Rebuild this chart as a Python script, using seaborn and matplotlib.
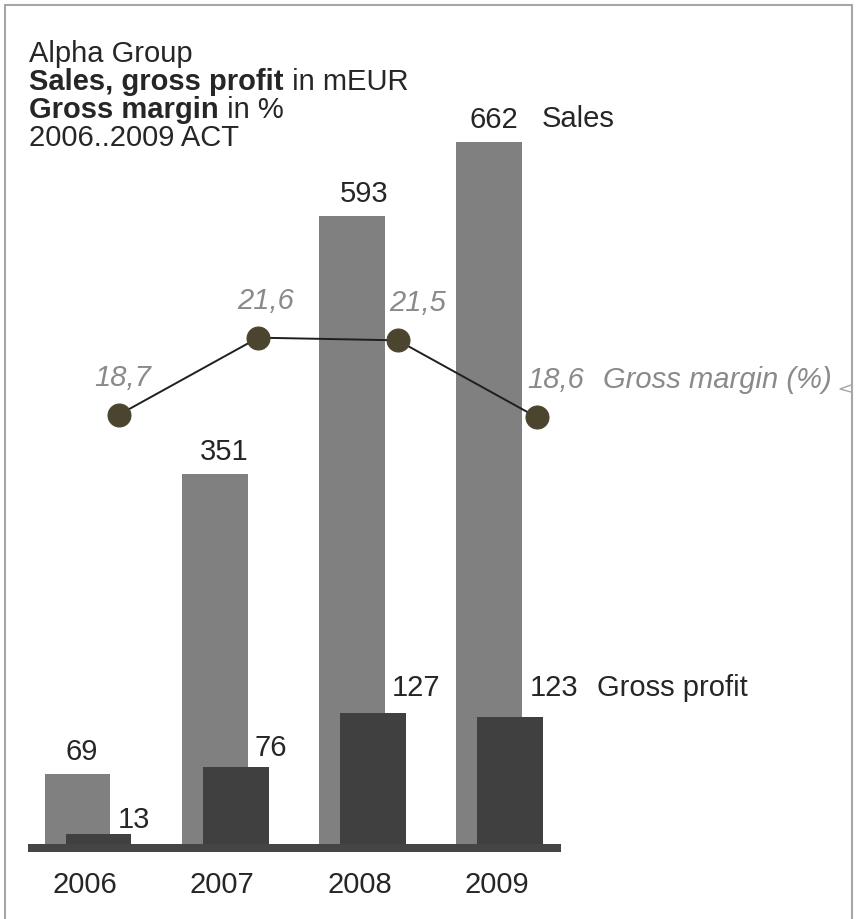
import numpy as np
import pandas as pd
import matplotlib.pyplot as plt
import seaborn as sns
from matplotlib.patches import Rectangle
from matplotlib.lines import Line2D

# data
years = ['2006', '2007', '2008', '2009']
sales = [69, 351, 593, 662]
gross_profit = [13, 76, 127, 123]
gross_margin = [18.7, 21.6, 21.5, 18.6]
margin_text = ['18,7', '21,6', '21,5', '18,6']

title_lines = [('', 'Alpha Group'),
               ('Sales, gross profit', ' in mEUR'),
               ('Gross margin', ' in %'),
               ('', '2006..2009 ACT')]

sns.set_style('white')
plt.rcParams['font.family'] = ['Liberation Sans', 'DejaVu Sans']
plt.rcParams['font.size'] = 21

W, H, DPI = 856, 919, 100
PT = 72 / DPI  # pixels -> points


def rect(left, top, width, height):
    return [left / W, 1 - (top + height) / H, width / W, height / H]


SALES_C = '#808080'
PROFIT_C = '#404040'
GRAY_TXT = '#8a8a8a'

df = pd.DataFrame({'year': years, 'sales': sales,
                   'profit': gross_profit, 'margin': gross_margin})

fig = plt.figure(figsize=(W / DPI, H / DPI), dpi=DPI)

# bars: two overlaid axes, profit shifted right
bar_rect = rect(8.85, 101.4, 549.2, 746.6)
ax1 = fig.add_axes(bar_rect)
ax2 = fig.add_axes(bar_rect)
sns.barplot(data=df, x='year', y='sales', color=SALES_C, saturation=1,
            width=0.48, linewidth=0, ax=ax1)
sns.barplot(data=df, x='year', y='profit', color=PROFIT_C, saturation=1,
            width=0.48, linewidth=0, ax=ax2)
shift = 0.153
ax1.set_xlim(-0.5, 3.5)
ax2.set_xlim(-0.5 - shift, 3.5 - shift)
for ax in (ax1, ax2):
    ax.set_ylim(0, 700)
    ax.set_axis_off()

# baseline
ax2.axhline(0, xmin=0.034, xmax=1.0054, color='#454545', lw=8 * PT,
            solid_capstyle='butt', clip_on=False, zorder=5)

# value labels
sales_dx = [4.5, 9.7, 11.9, 4.1]
for i, v in enumerate(sales):
    ax1.annotate(str(v), xy=(i, v), xytext=(sales_dx[i] * PT, 14 * PT),
                 textcoords='offset points', ha='center', va='baseline',
                 annotation_clip=False)
ax1.annotate('Sales', xy=(3, sales[3]), xytext=(52.6 * PT, 14.6 * PT),
             textcoords='offset points', ha='left', va='baseline',
             annotation_clip=False)

profit_dy = [6.6, 11.4, 16.5, 20.8]
for i, v in enumerate(gross_profit):
    ax2.annotate(str(v), xy=(i, v), xytext=(19 * PT, profit_dy[i] * PT),
                 textcoords='offset points', ha='left', va='baseline',
                 annotation_clip=False)
ax2.annotate('Gross profit', xy=(3, gross_profit[3]),
             xytext=(86.6 * PT, 20.8 * PT), textcoords='offset points',
             ha='left', va='baseline', annotation_clip=False)

# year labels
for i, y in enumerate(years):
    ax1.annotate(y, xy=(i, 0), xytext=(7.5 * PT, -45 * PT),
                 textcoords='offset points', ha='center', va='baseline',
                 annotation_clip=False)

# gross margin line
ax3 = fig.add_axes(rect(49.4, 247.4, 557.2, 265.5))
sns.lineplot(x=np.arange(len(years)), y=gross_margin, ax=ax3,
             color='#1f1f1f', lw=1.4, marker='o', markersize=23 * PT,
             markerfacecolor='#4b4530', markeredgecolor='#4b4530')
ax3.set_xlim(-0.5, 3.5)
ax3.set_ylim(15, 25)
ax3.set_axis_off()

margin_dx = [4, 7.2, 19.9, 19.1]
for i, v in enumerate(gross_margin):
    ax3.annotate(margin_text[i], xy=(i, v), xytext=(margin_dx[i] * PT, 29 * PT),
                 textcoords='offset points', ha='center', va='baseline',
                 color=GRAY_TXT, fontstyle='italic', annotation_clip=False)
ax3.annotate('Gross margin (%)', xy=(3, gross_margin[3]),
             xytext=(66 * PT, 29.4 * PT), textcoords='offset points',
             ha='left', va='baseline', color=GRAY_TXT, fontstyle='italic',
             annotation_clip=False)

# title block
renderer = fig.canvas.get_renderer()
for (bold, normal), base in zip(title_lines, [62, 90, 118, 146]):
    x = 29 / W
    y = 1 - base / H
    if bold:
        t = fig.text(x, y, bold, fontweight='bold', va='baseline')
        x = t.get_window_extent(renderer).x1 / W
    fig.text(x, y, normal, va='baseline')

# frame and small callout at the right edge
fig.add_artist(Rectangle((5 / W, -0.05), (852 - 5) / W, 1 - 5 / H + 0.05,
                         transform=fig.transFigure, fill=False,
                         ec='#a6a6a6', lw=1.5))
fig.add_artist(Line2D([851 / W, 840 / W, 851 / W],
                      [1 - 385 / H, 1 - 389 / H, 1 - 392 / H],
                      transform=fig.transFigure, color='#a6a6a6', lw=1))

fig.savefig('out.png', dpi=DPI)
